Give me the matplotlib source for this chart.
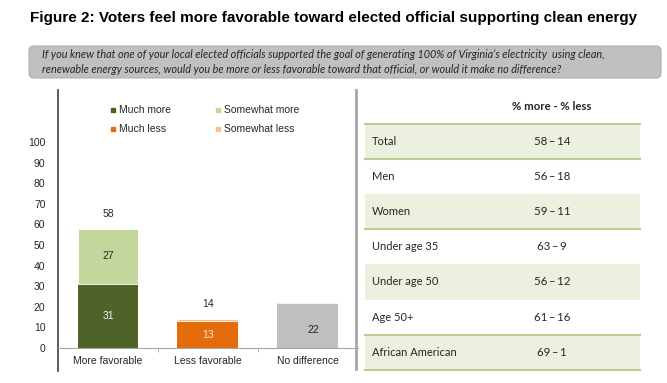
import numpy as np
import matplotlib.pyplot as plt
from matplotlib.patches import FancyBboxPatch, Rectangle
from matplotlib.lines import Line2D

# bar chart data
categories = ["More favorable", "Less favorable", "No difference"]
strong = [31, 13, 22]      # much more / much less / no difference
moderate = [27, 1, 0]      # somewhat more / somewhat less
totals = [58, 14, 22]

# table data
groups = ["Total", "Men", "Women", "Under age 35", "Under age 50", "Age 50+", "African American"]
more_pct = [58, 56, 59, 63, 56, 61, 69]
less_pct = [14, 18, 11, 9, 12, 16, 1]

c_much_more = "#4F6228"
c_some_more = "#C3D69B"
c_much_less = "#E46C0A"
c_some_less = "#FAC090"
c_nodiff = "#BFBFBF"

W, H = 667, 383
fig = plt.figure(figsize=(W / 100, H / 100), dpi=100)

# overlay in pixel coordinates for title, question box and table
deco = fig.add_axes([0, 0, 1, 1])
deco.set_xlim(0, W)
deco.set_ylim(H, 0)
deco.axis("off")

deco.text(30, 18, "Figure 2: Voters feel more favorable toward elected official supporting clean energy",
          fontsize=11, fontweight="bold", family="Liberation Sans", va="center", ha="left")

deco.add_patch(FancyBboxPatch((29, 46), 632, 32, boxstyle="round,pad=0,rounding_size=5",
                              fc="#C0C0C0", ec="#B0B0B0", lw=0.8))
question = ("If you knew that one of your local elected officials supported the goal of generating 100% of Virginia\u2019s electricity  using clean,\n"
            "renewable energy sources, would you be more or less favorable toward that official, or would it make no difference?")
deco.text(42, 62, question, fontsize=7.8, style="italic", family="Lato", color="#262626",
          va="center", ha="left", linespacing=1.4)

# chart frame lines
deco.add_line(Line2D([58, 58], [90, 371], color="#404040", lw=1.2))
deco.add_line(Line2D([356, 356], [90, 369], color="#A6A6A6", lw=2))

# table
top, rh = 123.5, 35.2
x0, x1 = 365, 640
deco.text(552, 106, "% more - % less", fontsize=8.2, fontweight="bold", family="Lato",
          ha="center", va="center", color="#262626")
for i, g in enumerate(groups):
    y = top + i * rh
    if i % 2 == 0:
        deco.add_patch(Rectangle((x0, y), x1 - x0, rh, fc="#EBF1DE", ec="none"))
    deco.text(372, y + rh / 2, g, fontsize=8, family="Lato", ha="left", va="center", color="#262626")
    deco.text(552, y + rh / 2, f"{more_pct[i]}\u2009\u2013\u2009{less_pct[i]}", fontsize=8.3,
              family=["Lato", "DejaVu Sans"], ha="center", va="center", color="#262626")
for k in [0, 1, 3, 6, 7]:
    y = top + k * rh
    deco.add_line(Line2D([x0, x1], [y, y], color="#B9CF8E", lw=1.5))

# bar chart
ax = fig.add_axes([58 / W, 1 - 348 / H, 300 / W, 206 / H])
x = np.arange(len(categories))
w = 0.61
bottom_colors = [c_much_more, c_much_less, c_nodiff]
top_colors = [c_some_more, c_some_less, c_nodiff]
ax.bar(x, strong, w, color=bottom_colors)
ax.bar(x, moderate, w, bottom=strong, color=top_colors, edgecolor="white", linewidth=0.6)
ax.set_xlim(-0.5, 2.5)
ax.set_ylim(0, 100)
ax.set_yticks(range(0, 101, 10))
ax.set_xticks(x, categories)
ax.set_xticks([0.5, 1.5], minor=True)
ax.tick_params(axis="y", length=0, labelsize=7.5, pad=9, labelcolor="#262626")
ax.tick_params(axis="x", which="major", length=0, labelsize=7.5, pad=6, labelcolor="#262626")
ax.tick_params(axis="x", which="minor", length=3, color="#A6A6A6")
for lbl in ax.get_xticklabels() + ax.get_yticklabels():
    lbl.set_family("Liberation Sans")
for s in ["top", "right", "left"]:
    ax.spines[s].set_visible(False)
ax.spines["bottom"].set_color("#A6A6A6")
ax.patch.set_alpha(0)

# segment labels
seg_colors = ["#F2F2F2", "#FDE9D9", "#262626"]
for i in range(len(categories)):
    yy = strong[i] / 2 if i < 2 else strong[i] * 0.4
    ax.text(x[i] + (0 if i < 2 else 0.05), yy, str(strong[i]), ha="center", va="center",
            fontsize=7.5, color=seg_colors[i], family="Liberation Sans")
ax.text(x[0], strong[0] + moderate[0] / 2, str(moderate[0]), ha="center", va="center",
        fontsize=7.5, color="#262626", family="Liberation Sans")
for i in range(2):
    ax.annotate(str(totals[i]), (x[i], totals[i]), xytext=(0, 7), textcoords="offset points",
                ha="center", va="bottom", fontsize=7.5, color="#262626", family="Liberation Sans")

handles = [Line2D([], [], marker="s", ls="none", ms=3.5, color=c_much_more),
           Line2D([], [], marker="s", ls="none", ms=3.5, color=c_much_less),
           Line2D([], [], marker="s", ls="none", ms=3.5, color=c_some_more),
           Line2D([], [], marker="s", ls="none", ms=3.5, color=c_some_less)]
labels = ["Much more", "Much less", "Somewhat more", "Somewhat less"]
fig.legend(handles, labels, ncol=2, loc="upper left", bbox_to_anchor=(100 / W, 1 - 96 / H),
           frameon=False, prop={"family": "Liberation Sans", "size": 7.5},
           handlelength=0.6, handletextpad=0.3, columnspacing=4.2, labelspacing=0.85,
           labelcolor="#262626")

fig.savefig("out.png", dpi=100)
